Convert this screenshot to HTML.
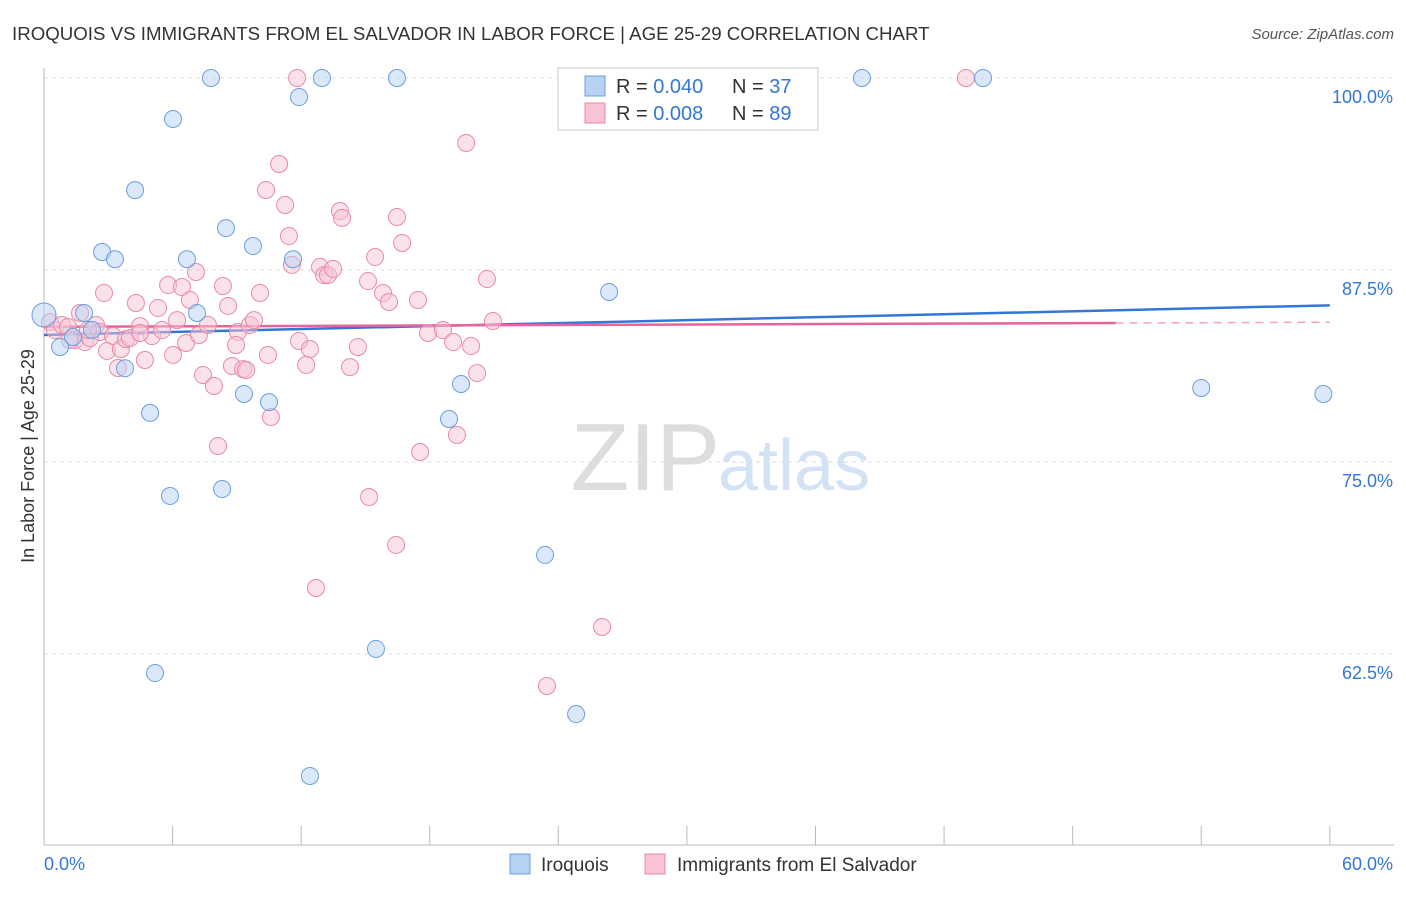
<!DOCTYPE html>
<html><head><meta charset="utf-8"><style>
body{margin:0;background:#fff;font-family:"Liberation Sans",sans-serif}
svg text{font-family:"Liberation Sans",sans-serif}
</style></head><body>
<svg id="c" width="1406" height="892">
<text x="12" y="40" font-size="18.7" fill="#333">IROQUOIS VS IMMIGRANTS FROM EL SALVADOR IN LABOR FORCE | AGE 25-29 CORRELATION CHART</text>
<text x="1394" y="39" font-size="15" fill="#555" text-anchor="end" font-style="italic">Source: ZipAtlas.com</text>
<text x="720" y="490" font-size="96" fill="#ddd" text-anchor="end" font-family="Liberation Serif">ZIP</text>
<text x="718" y="490" font-size="72" fill="#d3e2f5">atlas</text>
<text transform="translate(34,456) rotate(-90)" font-size="18" fill="#333" text-anchor="middle">In Labor Force | Age 25-29</text>
<g id="grid"></g><g id="ticks"></g><g id="lines"></g><g id="pts"></g>
<g>
<rect x="558" y="68" width="260" height="62" fill="#fff" stroke="#ccc"/>
<rect x="585" y="76" width="20" height="20" fill="#b7d2f3" stroke="#6a9fe0"/>
<rect x="585" y="103" width="20" height="20" fill="#f8c4d5" stroke="#e88aa8"/>
<text x="616" y="93" font-size="20" fill="#333">R = <tspan fill="#3377d6">0.040</tspan></text>
<text x="732" y="93" font-size="20" fill="#333">N = <tspan fill="#3377d6">37</tspan></text>
<text x="616" y="120" font-size="20" fill="#333">R = <tspan fill="#3377d6">0.008</tspan></text>
<text x="732" y="120" font-size="20" fill="#333">N = <tspan fill="#3377d6">89</tspan></text>
</g>
<g>
<rect x="510" y="854" width="20" height="20" fill="#b7d2f3" stroke="#6a9fe0"/>
<text x="541" y="871" font-size="19" fill="#333">Iroquois</text>
<rect x="645" y="854" width="20" height="20" fill="#f8c4d5" stroke="#e88aa8"/>
<text x="677" y="871" font-size="19" fill="#333">Immigrants from El Salvador</text>
</g>
<text x="44" y="870" font-size="18" fill="#3377d6">0.0%</text>
<text x="1393" y="870" font-size="18" fill="#3377d6" text-anchor="end">60.0%</text>
</svg>
<script>
const yTicks=[100,87.5,75,62.5];
const yTickLabels=["100.0%","87.5%","75.0%","62.5%"];
const xTicks=[0,6,12,18,24,30,36,42,48,54,60];
const blueX=[0,0.75,1.35,1.87,2.24,2.71,3.31,3.78,4.25,4.95,5.18,5.88,6.02,6.67,7.14,7.79,8.31,8.49,9.33,9.75,10.5,11.62,11.9,12.41,12.97,15.49,16.47,18.9,19.46,23.38,24.83,25.9,26.37,38.17,43.82,54.0,59.7];
const blueY=[84.57,82.49,83.14,84.7,83.6,88.67,88.2,81.1,92.7,78.2,61.26,72.79,97.33,88.2,84.7,100,73.24,90.23,79.43,89.06,78.9,88.2,98.76,54.56,100,62.83,100,77.8,80.08,68.95,58.59,100,86.07,100,100,79.82,79.43];
const pinkX=[0.28,0.51,0.84,1.12,1.45,1.68,1.91,2.15,2.43,2.61,2.8,2.94,3.22,3.45,3.59,3.83,4.01,4.29,4.48,4.71,5.04,5.32,5.51,5.79,6.02,6.21,6.44,6.63,6.81,7.09,7.23,7.42,7.65,7.93,8.12,8.35,8.59,8.77,9.05,9.29,9.43,9.61,9.8,10.08,10.45,10.59,10.36,10.97,11.25,11.43,11.57,11.81,11.9,12.23,12.41,12.88,13.07,13.25,13.49,13.81,13.91,14.28,14.65,15.12,15.17,15.45,15.82,16.1,16.43,16.47,16.71,17.45,17.55,17.92,18.62,19.09,19.27,19.7,19.93,20.21,20.67,20.95,23.47,26.04,12.69,43.02,8.96,2.05,1.21,4.48];
const pinkY=[84.11,83.59,83.92,83.79,82.94,84.7,82.81,83.07,83.92,83.46,86.0,82.23,83.2,81.12,82.36,83.0,83.07,85.35,83.85,81.64,83.2,85.03,83.59,86.52,81.97,84.24,86.39,82.75,85.55,87.37,83.27,80.66,83.92,79.95,76.04,86.46,85.16,81.25,83.46,81.05,80.99,83.92,84.24,86.0,81.97,77.93,92.71,94.4,91.73,89.71,87.83,100,82.88,81.32,82.36,87.7,87.17,87.17,87.57,91.34,90.89,81.18,82.49,86.78,72.72,88.35,86.0,85.42,69.6,90.95,89.26,85.55,75.65,83.4,83.59,82.81,76.76,95.77,82.55,80.79,86.91,84.18,60.42,64.26,66.8,100,82.62,83.59,82.94,83.4];
const blueTrend=[83.27,85.2];
const pinkTrend=[83.8,84.1];
const X=v=>44+v*21.43, Y=v=>78+(100-v)*15.36;
const NS="http://www.w3.org/2000/svg";
function mk(p,t,a){const e=document.createElementNS(NS,t);for(const k in a)e.setAttribute(k,a[k]);document.getElementById(p).appendChild(e);return e;}
yTicks.forEach((t,i)=>{
 const l=mk('grid','line',{x1:44,x2:1394,y1:Y(t),y2:Y(t),stroke:'#ddd','stroke-dasharray':'4,4'});
 
 
 const tx=mk('grid','text',{x:1393,y:Y(t)+25,'font-size':18,fill:'#3377d6','text-anchor':'end'});
 tx.textContent=yTickLabels[i];
 
 
});
const ax=mk('ticks','line',{x1:44,x2:44,y1:68,y2:845,stroke:'#bbb'});


const bx=mk('ticks','line',{x1:44,x2:1394,y1:845,y2:845,stroke:'#bbb'});


xTicks.forEach(t=>{const e=mk('ticks','line',{x1:X(t),x2:X(t),y1:826,y2:845,stroke:'#bbb'});
 
 });
function dot(x,y,f,s,r){const c=mk('pts','circle',{cx:X(x),cy:Y(y),r:r||8.5,fill:f,'fill-opacity':0.5,stroke:s,'stroke-width':1});return c;}
pinkX.forEach((x,i)=>{const c=dot(x,pinkY[i],'#f8c4d5','#e88aa8');
 
 });
blueX.forEach((x,i)=>{const c=dot(x,blueY[i],'#b7d2f3','#6a9fe0',i==0?12:8.5);
 
 });
const bl=mk('lines','line',{x1:X(0),y1:Y(blueTrend[0]),x2:X(60),y2:Y(blueTrend[1]),stroke:'#3377d6','stroke-width':2.5});


const pe=pinkTrend[0]+(pinkTrend[1]-pinkTrend[0])*50/60;
const pl=mk('lines','line',{x1:X(0),y1:Y(pinkTrend[0]),x2:X(50),y2:Y(pe),stroke:'#e8649a','stroke-width':2.5});


const pd=mk('lines','line',{x1:X(50),y1:Y(pe),x2:X(60),y2:Y(pinkTrend[1]),stroke:'#e8649a','stroke-width':1.5,'stroke-dasharray':'8,6','stroke-opacity':0.6});


</script>
</body></html>
